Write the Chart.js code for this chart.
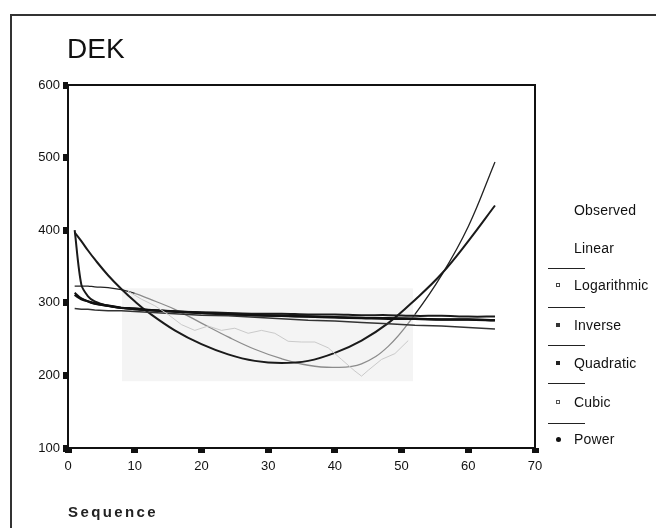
<!DOCTYPE html>
<html>
<head>
<meta charset="utf-8">
<script src="https://cdn.jsdelivr.net/npm/chart.js@4"></script>
<style>
  html, body { margin: 0; padding: 0; background: #fff; }
  #wrap { position: relative; width: 656px; height: 528px; overflow: hidden; font-family: "Liberation Sans", Arial, sans-serif; color: #111; }
  #frame { position: absolute; left: 10px; top: 14px; width: 700px; height: 600px; border-top: 2px solid #333; border-left: 2px solid #333; }
  #title { position: absolute; left: 67px; top: 33px; font-size: 28px; }
  #xname { position: absolute; left: 68px; top: 503px; font-size: 15px; font-weight: bold; letter-spacing: 2.4px; color: #222; }
  .lg { position: absolute; left: 574px; font-size: 14px; line-height: 14px; margin-top: -7px; white-space: nowrap; letter-spacing: 0.2px; }
  .ln { position: absolute; left: 548px; width: 37px; height: 0; border-top: 1.5px solid #222; }
  .mk { position: absolute; left: 556px; width: 4px; height: 4px; margin-top: -2px; }
  canvas { position: absolute; left: 0; top: 0; }
</style>
</head>
<body>
<div id="wrap">
  <div id="frame"></div>
  <canvas id="chart" width="656" height="528"></canvas>
  <div id="title">DEK</div>
  <div id="xname">Sequence</div>
  <div id="legend"></div>
</div>
<script>
// sequence points the fitted curves are read at
const seq = [1, 2, 3, 4, 6, 8, 10, 12, 16, 20, 24, 28, 32, 36, 40, 44, 48, 52, 56, 60, 64];

const linear      = [292, 291, 291, 290, 289, 289, 288, 287, 285, 283, 282, 280, 278, 276, 275, 273, 271, 269, 268, 266, 264];
const logarithmic = [311, 305, 302, 299, 296, 293, 292, 290, 288, 286, 284, 283, 282, 281, 280, 279, 278, 278, 277, 277, 276];
const inverse     = [400, 325, 309, 302, 296, 293, 291, 290, 288, 287, 286, 285, 285, 284, 284, 283, 283, 282, 282, 281, 281];
const quadratic   = [397, 385, 372, 360, 338, 319, 302, 287, 262, 243, 229, 220, 217, 220, 231, 248, 272, 304, 340, 385, 434];
const cubic       = [323, 323, 323, 322, 321, 318, 313, 306, 291, 272, 253, 236, 223, 214, 211, 216, 240, 284, 338, 405, 494];
const power       = [314, 306, 302, 299, 296, 293, 291, 290, 288, 286, 285, 283, 282, 281, 280, 279, 279, 278, 277, 277, 276];

// observed values (faint trace)
const obsSeq   = [9, 11, 13, 15, 17, 19, 21, 23, 25, 27, 29, 31, 33, 35, 37, 39, 41, 43, 44, 45, 47, 49, 51];
const observed = [316, 305, 296, 284, 270, 262, 268, 262, 265, 258, 262, 258, 247, 246, 246, 238, 222, 206, 199, 207, 222, 230, 248];

const xTicks = [0, 10, 20, 30, 40, 50, 60, 70];
const yTicks = [100, 200, 300, 400, 500, 600];

const legendItems = ['Observed', 'Linear', 'Logarithmic', 'Inverse', 'Quadratic', 'Cubic', 'Power'];

// faint shaded band behind the observed trace, in data units
const band = { x0: 8.1, x1: 51.7, y0: 192, y1: 320 };

const pts = (xs, ys) => xs.map((x, i) => ({ x: x, y: ys[i] }));

const bandPlugin = {
  id: 'band',
  beforeDatasetsDraw(chart) {
    const { ctx, scales: { x, y } } = chart;
    ctx.save();
    ctx.fillStyle = '#f4f4f4';
    const l = x.getPixelForValue(band.x0), r = x.getPixelForValue(band.x1);
    const t = y.getPixelForValue(band.y1), b = y.getPixelForValue(band.y0);
    ctx.fillRect(l, t, r - l, b - t);
    ctx.restore();
  }
};

const framePlugin = {
  id: 'frame',
  afterDraw(chart) {
    const { ctx, chartArea: a } = chart;
    ctx.save();
    ctx.strokeStyle = '#111';
    ctx.lineWidth = 2;
    ctx.strokeRect(a.left, a.top, a.right - a.left, a.bottom - a.top);
    ctx.restore();
  }
};

const inBand = c => c.p0.parsed.x >= band.x0 && c.p1.parsed.x <= band.x1 + 1;

new Chart(document.getElementById('chart'), {
  type: 'line',
  data: {
    datasets: [
      { label: 'Observed', data: pts(obsSeq, observed), borderColor: '#cacaca', borderWidth: 1, tension: 0 },
      { label: 'Linear', data: pts(seq, linear), borderColor: '#333', borderWidth: 1.5, tension: 0 },
      { label: 'Logarithmic', data: pts(seq, logarithmic), borderColor: '#111', borderWidth: 2.5, tension: 0.4 },
      { label: 'Inverse', data: pts(seq, inverse), borderColor: '#1a1a1a', borderWidth: 2, tension: 0.3 },
      { label: 'Quadratic', data: pts(seq, quadratic), borderColor: '#1a1a1a', borderWidth: 2, tension: 0.4 },
      { label: 'Cubic', data: pts(seq, cubic), borderColor: '#222', borderWidth: 1.3, tension: 0.4,
        segment: { borderColor: c => inBand(c) ? '#8c8c8c' : '#222' } },
      { label: 'Power', data: pts(seq, power), borderColor: '#111', borderWidth: 2, tension: 0.4 }
    ]
  },
  options: {
    responsive: false,
    animation: false,
    devicePixelRatio: 1,
    layout: { padding: { left: 20, top: 85, right: 121, bottom: 56 } },
    elements: { point: { radius: 0 } },
    plugins: { legend: { display: false }, tooltip: { enabled: false } },
    scales: {
      x: {
        type: 'linear', min: 0, max: 70,
        afterBuildTicks: s => { s.ticks = xTicks.map(v => ({ value: v })); },
        afterFit: s => { s.height = 24; },
        border: { display: false },
        grid: { drawOnChartArea: false, drawTicks: true, tickLength: 5, tickWidth: 7, tickColor: '#111' },
        ticks: { color: '#111', padding: 6, font: { family: 'Liberation Sans', size: 13 } }
      },
      y: {
        type: 'linear', min: 100, max: 600,
        afterBuildTicks: s => { s.ticks = yTicks.map(v => ({ value: v })); },
        afterFit: s => { s.width = 48; },
        border: { display: false },
        grid: { drawOnChartArea: false, drawTicks: true, tickLength: 5, tickWidth: 7, tickColor: '#111' },
        ticks: { color: '#111', padding: 3, font: { family: 'Liberation Sans', size: 13 } }
      }
    }
  },
  plugins: [bandPlugin, framePlugin]
});

// legend block on the right
const legend = document.getElementById('legend');
const labelY = [210, 248, 285, 325, 363, 402, 439];
const ruleY = [268, 307, 345, 383, 423];
const markStyle = [null, null,
  'border:1px solid #444;width:2px;height:2px;',
  'background:#333;',
  'background:#222;',
  'border:1px solid #555;width:2px;height:2px;',
  'background:#111;border-radius:50%;width:5px;height:5px;'];
legendItems.forEach((name, i) => {
  const d = document.createElement('div');
  d.className = 'lg';
  d.style.top = labelY[i] + 'px';
  d.textContent = name;
  legend.appendChild(d);
  if (markStyle[i]) {
    const m = document.createElement('div');
    m.className = 'mk';
    m.style.cssText = 'top:' + labelY[i] + 'px;' + markStyle[i];
    legend.appendChild(m);
  }
});
ruleY.forEach((y, i) => {
  const r = document.createElement('div');
  r.className = 'ln';
  r.style.top = y + 'px';
  if (i === 3) r.style.borderTopWidth = '1px';
  legend.appendChild(r);
});
</script>
</body>
</html>
